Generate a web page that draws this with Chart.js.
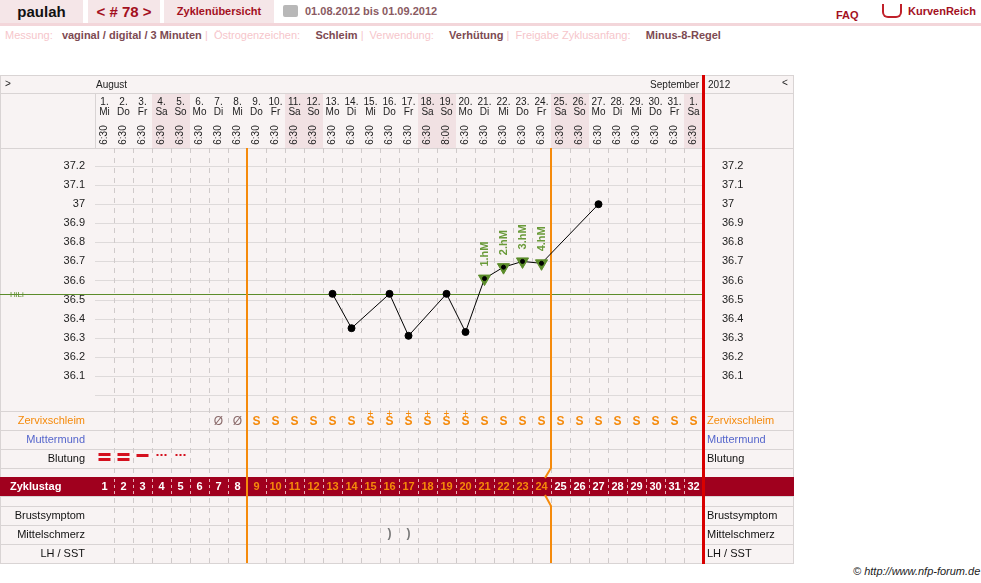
<!DOCTYPE html>
<html>
<head>
<meta charset="utf-8">
<script src="https://cdn.jsdelivr.net/npm/chart.js@4.4.0/dist/chart.umd.min.js"></script>
<style>
  body { margin: 0; background: #fff; font-family: "Liberation Sans", Arial, sans-serif; width: 981px; height: 583px; position: relative; overflow: hidden; }
  .abs { position: absolute; }
  .box { background: #f5e6e8; height: 23px; top: 0; line-height: 23px; font-weight: bold; }
  #linie { top: 23px; left: 0; width: 981px; height: 3px; background: #f3d6da; }
  .lbl { color: #f6c6cb; }
  .val { color: #7d4a52; font-weight: bold; }
  #grid { left: 0; top: 75px; }
</style>
</head>
<body>
<div class="abs box" style="left:0;width:83px;font-size:15px;text-align:center;color:#111">paulah</div>
<div class="abs box" style="left:88px;width:72px;font-size:15px;text-align:center;color:#a3101e">&lt; # 78 &gt;</div>
<div class="abs box" style="left:164px;width:110px;font-size:11px;text-align:center;color:#a3101e">Zyklenübersicht</div>
<div class="abs" style="left:283px;top:5px;width:15px;height:12px;background:#b8b8b8;border-radius:2px"></div>
<div class="abs" style="left:305px;top:0;line-height:23px;font-size:11px;font-weight:bold;color:#8a5a62">01.08.2012 bis 01.09.2012</div>
<div class="abs" style="left:836px;top:4px;line-height:23px;font-size:11px;font-weight:bold;color:#a3101e">FAQ</div>
<div class="abs" style="left:882px;top:4px;width:16px;height:12px;border:2px solid #c0202a;border-top:none;border-radius:0 0 6px 6px"></div>
<div class="abs" style="left:908px;top:0;line-height:23px;font-size:11px;font-weight:bold;color:#a3101e">KurvenReich</div>
<div class="abs" id="linie"></div>
<div class="abs" style="left:5px;top:29px;font-size:11px;white-space:pre"><span class="lbl">Messung: </span>  <span class="val">vaginal / digital / 3 Minuten</span> <span class="lbl">|  Östrogenzeichen:</span>     <span class="val">Schleim</span> <span class="lbl">|  Verwendung:</span>     <span class="val">Verhütung</span> <span class="lbl">|  Freigabe Zyklusanfang:</span>     <span class="val">Minus-8-Regel</span></div>
<canvas class="abs" id="grid" width="794" height="489"></canvas>
<div class="abs" style="left:853px;top:565px;font-size:11px;font-style:italic;color:#222">© http://www.nfp-forum.de</div>

<script>
// Zyklusdaten
const zyklustage = ['1','2','3','4','5','6','7','8','9','10','11','12','13','14','15','16','17','18','19','20','21','22','23','24','25','26','27','28','29','30','31','32'];
const datum = ['1.','2.','3.','4.','5.','6.','7.','8.','9.','10.','11.','12.','13.','14.','15.','16.','17.','18.','19.','20.','21.','22.','23.','24.','25.','26.','27.','28.','29.','30.','31.','1.'];
const wochentage = ['Mi','Do','Fr','Sa','So','Mo','Di','Mi','Do','Fr','Sa','So','Mo','Di','Mi','Do','Fr','Sa','So','Mo','Di','Mi','Do','Fr','Sa','So','Mo','Di','Mi','Do','Fr','Sa'];
const uhrzeiten = ['6:30','6:30','6:30','6:30','6:30','6:30','6:30','6:30','6:30','6:30','6:30','6:30','6:30','6:30','6:30','6:30','6:30','6:30','8:00','6:30','6:30','6:30','6:30','6:30','6:30','6:30','6:30','6:30','6:30','6:30','6:30','6:30'];
const temperaturen = [null,null,null,null,null,null,null,null,null,null,null,null,36.53,36.35,null,36.53,36.31,null,36.53,36.33,36.61,36.67,36.70,36.69,null,null,37.0,null,null,null,null,null];
const hoehenmessungen = ['','','','','','','','','','','','','','','','','','','','','1.hM','2.hM','3.hM','4.hM','','','','','','','',''];
const schleim = ['','','','','','','Ø','Ø','S','S','S','S','S','S','S+','S+','S+','S+','S+','S+','S','S','S','S','S','S','S','S','S','S','S','S'];
const blutung = ['stark','stark','mittel','schmier','schmier','','','','','','','','','','','','','','','','','','','','','','','','','','',''];
const mittelschmerz = ['','','','','','','','','','','','','','','','x','x','','','','','','','','','','','','','','',''];
const yTicks = [37.2, 37.1, 37.0, 36.9, 36.8, 36.7, 36.6, 36.5, 36.4, 36.3, 36.2, 36.1];
const hiLi = 36.53;
const auswertungTag = 24;   // Ende der Auswertung (orange Linie rechts)
const unfruchtbarBis = 8;   // Minus-8-Regel (orange Linie links)

const FONT = '"Liberation Sans", Arial, sans-serif';
const ROT = '#a0001e';
const ORANGE = '#f58a0b';
const GRUEN = '#5b8c2a';

// Zeilen der Tabelle (y im Canvas)
const R = { top: 0, monat: 18, kopf: 73, schleim: 336, mumu: 355, blut: 374, leer1: 393, zt: 402, leer2: 421, brust: 431, mittel: 450, lh: 469, ende: 488 };

const hilfe = {
  id: 'hilfe',
  beforeDatasetsDraw(chart) {
    const c = chart.ctx, x = chart.scales.x, y = chart.scales.y, a = chart.chartArea;
    const w = 19;
    const links = a.left, rechts = a.right;
    c.save();
    c.fillStyle = '#f8f3f3';
    c.fillRect(0, 0, 794, 489);
    // Wochenende im Kopf
    wochentage.forEach((t, i) => {
      if (t === 'Sa' || t === 'So') {
        c.fillStyle = '#f1e1e3';
        c.fillRect(x.getPixelForValue(i) - w / 2, R.monat, w, R.kopf - R.monat);
      }
    });
    // Rahmen und Zeilenlinien
    c.strokeStyle = '#d9d4d4'; c.lineWidth = 1;
    c.strokeRect(0.5, 0.5, 793, 488);
    [R.monat, R.kopf, R.schleim, R.mumu, R.blut, R.leer1, R.leer2, R.brust, R.mittel, R.lh].forEach(v => {
      c.beginPath(); c.moveTo(0, v + 0.5); c.lineTo(794, v + 0.5); c.stroke();
    });
    c.beginPath(); c.moveTo(links + 0.5, R.monat); c.lineTo(links + 0.5, R.kopf); c.stroke();
    // horizontale Temperaturlinien
    c.strokeStyle = '#dedada';
    for (let t = 36.0; t <= 37.21; t += 0.1) {
      const py = Math.round(y.getPixelForValue(t)) + 0.5;
      c.beginPath(); c.moveTo(links, py); c.lineTo(rechts, py); c.stroke();
    }
    // gestrichelte Spalten
    c.setLineDash([5, 5]); c.strokeStyle = '#cfcaca';
    for (let i = 1; i < zyklustage.length; i++) {
      const px = Math.round(x.getPixelForValue(i) - w / 2) + 0.5;
      c.beginPath(); c.moveTo(px, R.kopf); c.lineTo(px, R.ende); c.stroke();
    }
    c.setLineDash([]);
    // Zyklustag-Zeile
    c.fillStyle = ROT;
    c.fillRect(0, R.zt, 794, R.leer2 - R.zt);
    c.setLineDash([3, 3]); c.strokeStyle = '#e8b0b8';
    for (let i = 1; i < zyklustage.length; i++) {
      const px = Math.round(x.getPixelForValue(i) - w / 2) + 0.5;
      c.beginPath(); c.moveTo(px, R.zt + 2); c.lineTo(px, R.leer2 - 2); c.stroke();
    }
    c.setLineDash([]);
    // Texte im Kopf
    c.fillStyle = '#222'; c.font = '10px ' + FONT; c.textAlign = 'left'; c.textBaseline = 'middle';
    c.fillText('>', 5, 9);
    c.fillText('August', links + 1, 10);
    c.textAlign = 'right'; c.fillText('September', rechts - 4, 10);
    c.textAlign = 'left'; c.fillText('2012', rechts + 5, 10);
    c.fillText('<', 782, 8);
    c.textAlign = 'center';
    zyklustage.forEach((d, i) => {
      const px = x.getPixelForValue(i);
      c.fillStyle = '#222';
      c.fillText(datum[i], px, 27);
      c.fillText(wochentage[i], px, 37);
      c.save(); c.translate(px, 60); c.rotate(-Math.PI / 2); c.fillText(uhrzeiten[i], 0, 0); c.restore();
      // Zyklustag
      c.font = 'bold 11px ' + FONT;
      c.fillStyle = (i + 1 > unfruchtbarBis && i + 1 <= auswertungTag) ? ORANGE : '#fff';
      c.fillText(d, px, R.zt + 10);
      c.font = '10px ' + FONT;
      // Schleim
      const s = schleim[i];
      if (s === 'Ø') { c.fillStyle = '#8a6a6a'; c.font = '12px ' + FONT; c.fillText('Ø', px, R.schleim + 11); c.font = '10px ' + FONT; }
      else if (s) {
        c.fillStyle = ORANGE; c.font = 'bold 12px ' + FONT;
        c.fillText('S', px, R.schleim + 11);
        if (s === 'S+') { c.font = '10px ' + FONT; c.fillText('+', px, R.schleim + 3); }
        c.font = '10px ' + FONT;
      }
      // Blutung
      c.fillStyle = '#d4101e';
      if (blutung[i] === 'stark') { c.fillRect(px - 6, R.blut + 4, 12, 3); c.fillRect(px - 6, R.blut + 9, 12, 3); }
      if (blutung[i] === 'mittel') { c.fillRect(px - 6, R.blut + 5, 12, 3); }
      if (blutung[i] === 'schmier') { [-4, 0, 4].forEach(o => c.fillRect(px + o - 1, R.blut + 5, 2, 2)); }
      // Mittelschmerz
      if (mittelschmerz[i]) { c.fillStyle = '#777'; c.font = 'bold 12px ' + FONT; c.fillText(')', px, R.mittel + 9); c.font = '10px ' + FONT; }
    });
    // Zeilenbeschriftungen
    c.font = '11px ' + FONT; c.textAlign = 'right';
    const zeilen = [['Zervixschleim', R.schleim, ORANGE], ['Muttermund', R.mumu, '#5566cc'], ['Blutung', R.blut, '#111'],
      ['Brustsymptom', R.brust, '#111'], ['Mittelschmerz', R.mittel, '#111'], ['LH / SST', R.lh, '#111']];
    zeilen.forEach(([t, ry, col]) => {
      c.fillStyle = col; c.textAlign = 'right'; c.fillText(t, 85, ry + 10);
      c.textAlign = 'left'; c.fillText(t, rechts + 4, ry + 10);
    });
    c.fillStyle = '#fff'; c.font = 'bold 11px ' + FONT; c.textAlign = 'left';
    c.fillText('Zyklustag', 10, R.zt + 10);
    // y-Achsen Beschriftung
    c.font = '11px ' + FONT; c.fillStyle = '#222';
    yTicks.forEach(t => {
      const py = y.getPixelForValue(t);
      c.textAlign = 'right'; c.fillText(String(t), 85, py);
      c.textAlign = 'left'; c.fillText(String(t), rechts + 19, py);
    });
    // HiLi
    const hy = Math.round(y.getPixelForValue(hiLi)) + 0.5;
    c.strokeStyle = GRUEN; c.lineWidth = 1;
    c.beginPath(); c.moveTo(0, hy); c.lineTo(rechts, hy); c.stroke();
    c.fillStyle = GRUEN; c.font = '8px ' + FONT; c.textAlign = 'left'; c.fillText('HiLi', 10, hy);
    // orange Linien
    c.strokeStyle = ORANGE; c.lineWidth = 2;
    const o1 = x.getPixelForValue(unfruchtbarBis) - w / 2;
    c.beginPath(); c.moveTo(o1, R.kopf); c.lineTo(o1, R.ende); c.stroke();
    const o2 = x.getPixelForValue(auswertungTag) - w / 2;
    c.beginPath(); c.moveTo(o2, R.kopf); c.lineTo(o2, R.leer1); c.lineTo(o2 - 6, R.zt + 1); c.stroke();
    c.beginPath(); c.moveTo(o2 - 6, R.leer2 - 1); c.lineTo(o2, R.brust); c.lineTo(o2, R.ende); c.stroke();
    c.restore();
  },
  afterDatasetsDraw(chart) {
    const c = chart.ctx, x = chart.scales.x, y = chart.scales.y;
    c.save();
    c.fillStyle = '#6a9a3a'; c.font = 'bold 11px ' + FONT; c.textAlign = 'left'; c.textBaseline = 'middle';
    hoehenmessungen.forEach((h, i) => {
      if (!h) return;
      const px = x.getPixelForValue(i), py = y.getPixelForValue(temperaturen[i]);
      c.save(); c.translate(px, py - 12); c.rotate(-Math.PI / 2); c.fillText(h, 0, 0); c.restore();
    });
    // rote Linie (Zyklusende)
    c.fillStyle = '#d80000';
    c.fillRect(chart.chartArea.right - 1, 0, 3, 489);
    c.restore();
  }
};

const istHM = hoehenmessungen.map(h => h !== '');
new Chart(document.getElementById('grid'), {
  type: 'line',
  data: {
    labels: zyklustage,
    datasets: [{
      data: temperaturen,
      borderColor: '#000',
      borderWidth: 1,
      spanGaps: true,
      tension: 0,
      pointStyle: istHM.map(h => h ? 'triangle' : 'circle'),
      pointRotation: istHM.map(h => h ? 180 : 0),
      pointRadius: istHM.map(h => h ? 7 : 3.5),
      pointBackgroundColor: istHM.map(h => h ? GRUEN : '#000'),
      pointBorderColor: istHM.map(h => h ? GRUEN : '#000'),
      order: 2
    }, {
      data: temperaturen.map((t, i) => istHM[i] ? t : null),
      showLine: false,
      pointRadius: 2,
      pointBackgroundColor: '#000',
      pointBorderColor: '#000',
      order: 1
    }]
  },
  options: {
    responsive: false,
    animation: false,
    devicePixelRatio: 1,
    layout: { padding: { left: 95, right: 91, top: 72, bottom: 150 } },
    plugins: { legend: { display: false }, tooltip: { enabled: false } },
    scales: {
      x: { type: 'category', offset: true, display: false },
      y: { min: 35.9, max: 37.3, display: false }
    }
  },
  plugins: [hilfe]
});
</script>
</body>
</html>
